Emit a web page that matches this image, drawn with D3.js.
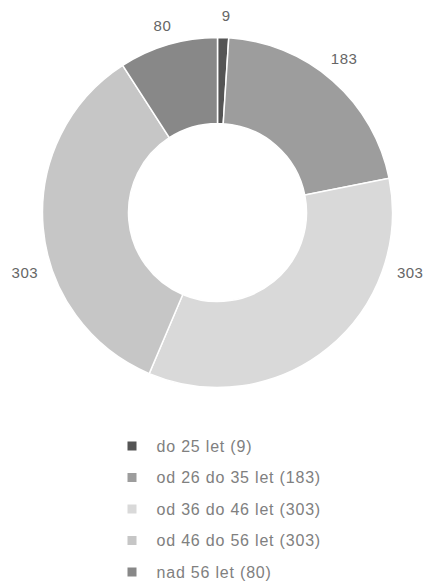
<!DOCTYPE html>
<html>
<head>
<meta charset="utf-8">
<script src="https://cdn.jsdelivr.net/npm/d3@7"></script>
<style>
  body { margin: 0; background: #fff; }
  text { font-family: "Liberation Sans", Arial, sans-serif; }
</style>
</head>
<body>
<div id="chart"></div>
<script>
// data
var categories = ["do 25 let", "od 26 do 35 let", "od 36 do 46 let", "od 46 do 56 let", "nad 56 let"];
var values = [9, 183, 303, 303, 80];
var colors = ["#555555", "#9d9d9d", "#d9d9d9", "#c6c6c6", "#888888"];

// label placement overrides (degrees from top, clockwise / extra radius); null = middle of slice
var labelAngles = [2.5, 39.5, 107.5, 252.5, null];
var labelPush = [0, 2, 5, 5, -2];

var width = 424, height = 581;
var cx = 217.5, cy = 212.5,
    outerR = 175, innerR = 89, labelR = 197;

var svg = d3.select("#chart")
  .append("svg")
    .attr("width", width)
    .attr("height", height);

var g = svg.append("g")
    .attr("transform", "translate(" + cx + "," + cy + ")");

var pie = d3.pie().sort(null).value(function(d) { return d; });
var arcs = pie(values);

var arc = d3.arc().innerRadius(innerR).outerRadius(outerR);

g.selectAll("path.slice")
  .data(arcs)
  .enter()
  .append("path")
    .attr("class", "slice")
    .attr("d", arc)
    .style("fill", function(d, i) { return colors[i]; })
    .style("stroke", "#fff")
    .style("stroke-width", 1.5);

var labelAngle = function(d, i) {
  return labelAngles[i] != null ? labelAngles[i] * Math.PI / 180 : (d.startAngle + d.endAngle) / 2;
};

// outside value labels
g.selectAll("text.val")
  .data(arcs)
  .enter()
  .append("text")
    .attr("class", "val")
    .attr("x", function(d, i) { return Math.sin(labelAngle(d, i)) * (labelR + labelPush[i]); })
    .attr("y", function(d, i) { return -Math.cos(labelAngle(d, i)) * (labelR + labelPush[i]); })
    .attr("text-anchor", "middle")
    .attr("dy", "0.35em")
    .style("font-size", "15px")
    .style("letter-spacing", "0.5px")
    .style("fill", "#666")
    .text(function(d) { return d.data; });

// legend
var legendX = 127.5, legendY = 446, rowH = 31.5;
var legend = svg.append("g");

legend.selectAll("rect")
  .data(categories)
  .enter()
  .append("rect")
    .attr("x", legendX)
    .attr("y", function(d, i) { return legendY + i * rowH - 4.5; })
    .attr("width", 9)
    .attr("height", 9)
    .style("fill", function(d, i) { return colors[i]; });

legend.selectAll("text")
  .data(categories)
  .enter()
  .append("text")
    .attr("x", legendX + 29)
    .attr("y", function(d, i) { return legendY + i * rowH; })
    .attr("dy", "0.35em")
    .style("font-size", "16px")
    .style("letter-spacing", "0.8px")
    .style("fill", "#808080")
    .text(function(d, i) { return d + " (" + values[i] + ")"; });
</script>
</body>
</html>
